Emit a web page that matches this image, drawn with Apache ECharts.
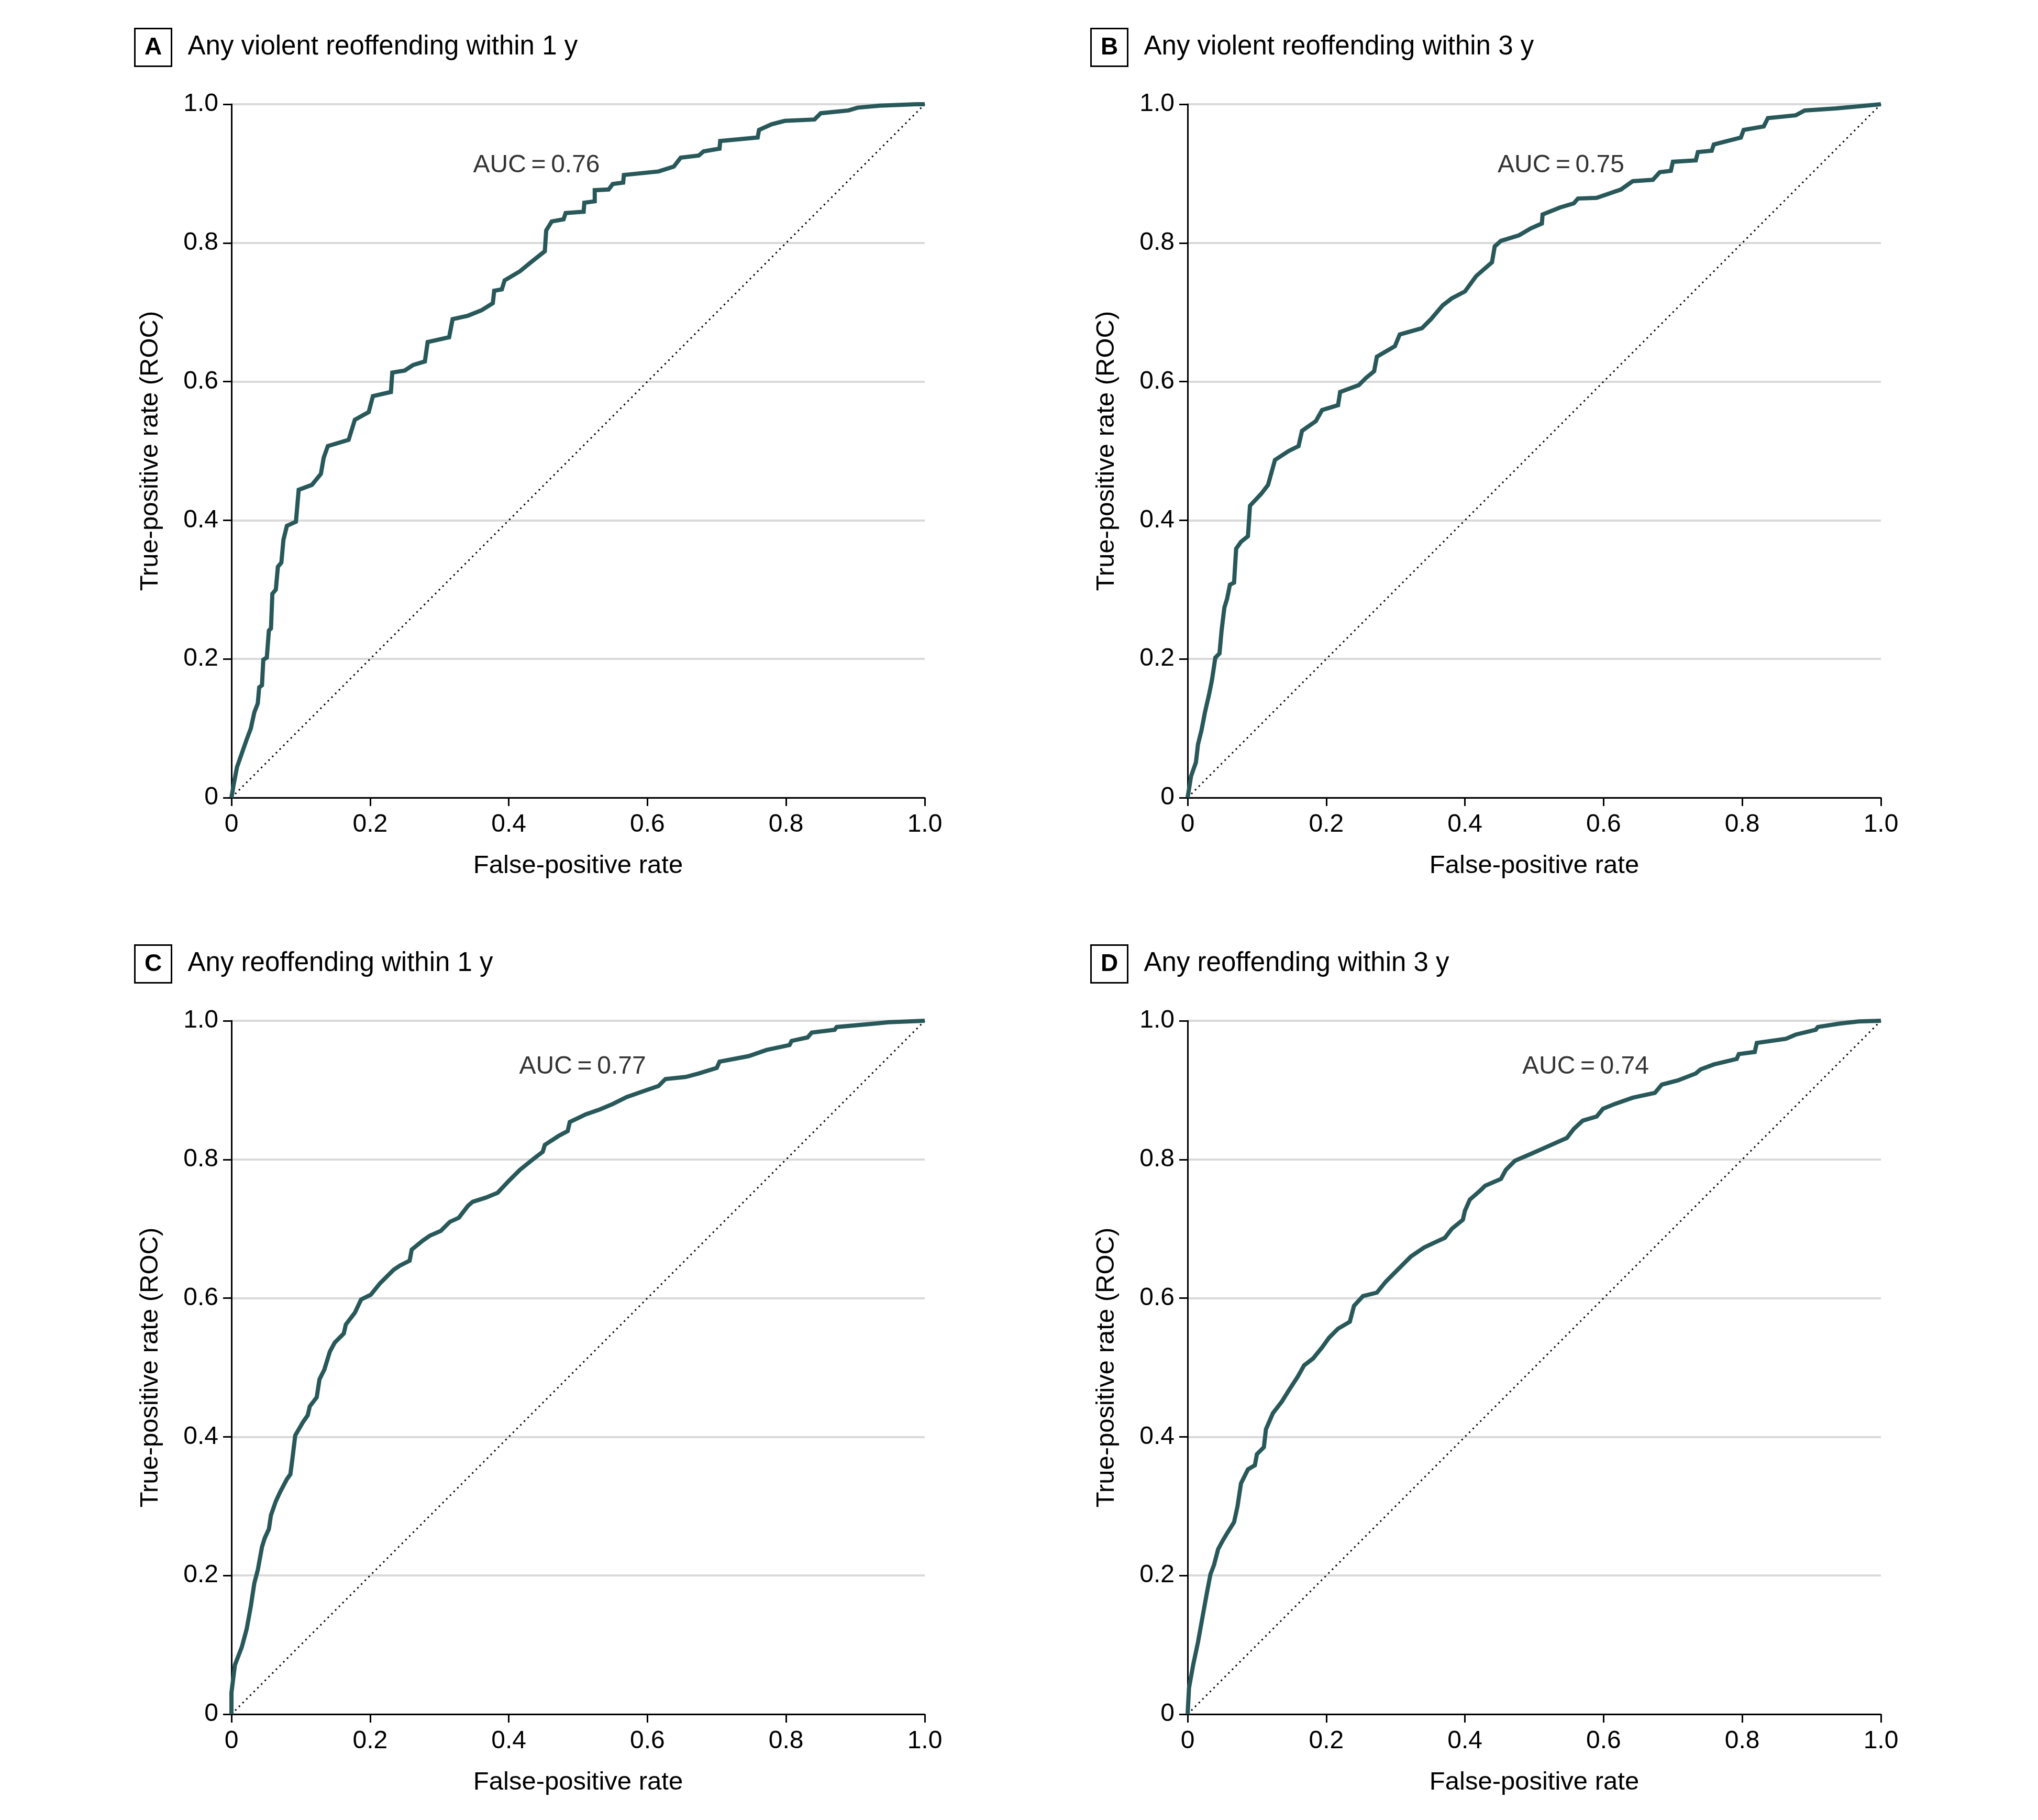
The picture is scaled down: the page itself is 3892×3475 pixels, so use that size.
<!DOCTYPE html>
<html>
<head>
<meta charset="utf-8">
<script src="https://cdn.jsdelivr.net/npm/echarts@6/dist/echarts.min.js"></script>
<style>
  html, body { margin: 0; padding: 0; background: #fff; }
  #chart { width: 3892px; height: 3475px; }
</style>
</head>
<body>
<div id="chart"></div>
<script>
'use strict'

// ROC points: [false-positive rate, true-positive rate]
const rocA = [
  [0, 0], [0.003, 0.018], [0.008, 0.044], [0.015, 0.064], [0.022, 0.084], [0.028, 0.100],
  [0.033, 0.123], [0.038, 0.136], [0.040, 0.159], [0.044, 0.162], [0.046, 0.199], [0.051, 0.202],
  [0.054, 0.241], [0.057, 0.244], [0.059, 0.294], [0.064, 0.300], [0.067, 0.333], [0.072, 0.339],
  [0.075, 0.372], [0.080, 0.392], [0.093, 0.398], [0.097, 0.444], [0.116, 0.451], [0.129, 0.467],
  [0.133, 0.490], [0.139, 0.507], [0.169, 0.516], [0.178, 0.545], [0.198, 0.556], [0.204, 0.579],
  [0.230, 0.585], [0.232, 0.613], [0.250, 0.616], [0.262, 0.624], [0.279, 0.629], [0.283, 0.657],
  [0.314, 0.664], [0.319, 0.690], [0.341, 0.695], [0.361, 0.703], [0.377, 0.713], [0.379, 0.731],
  [0.390, 0.733], [0.394, 0.746], [0.416, 0.759], [0.433, 0.773], [0.452, 0.788], [0.454, 0.818],
  [0.462, 0.831], [0.479, 0.834], [0.482, 0.843], [0.508, 0.845], [0.509, 0.858], [0.524, 0.860],
  [0.524, 0.876], [0.544, 0.877], [0.550, 0.885], [0.565, 0.887], [0.566, 0.898], [0.616, 0.903],
  [0.638, 0.910], [0.648, 0.923], [0.674, 0.926], [0.681, 0.932], [0.704, 0.936], [0.705, 0.947],
  [0.759, 0.952], [0.761, 0.963], [0.779, 0.971], [0.798, 0.976], [0.841, 0.978], [0.850, 0.987],
  [0.890, 0.991], [0.903, 0.995], [0.935, 0.998], [0.988, 1.0], [1, 1]
]

const rocB = [
  [0, 0], [0.005, 0.031], [0.012, 0.051], [0.015, 0.077], [0.020, 0.097], [0.025, 0.123],
  [0.031, 0.149], [0.035, 0.169], [0.040, 0.202], [0.046, 0.208], [0.049, 0.241], [0.053, 0.274],
  [0.057, 0.287], [0.061, 0.307], [0.067, 0.310], [0.070, 0.359], [0.077, 0.369], [0.087, 0.377],
  [0.090, 0.421], [0.106, 0.438], [0.116, 0.451], [0.126, 0.487], [0.146, 0.500], [0.160, 0.507],
  [0.165, 0.529], [0.185, 0.543], [0.194, 0.559], [0.217, 0.566], [0.220, 0.585], [0.247, 0.595],
  [0.257, 0.605], [0.269, 0.615], [0.273, 0.636], [0.299, 0.651], [0.306, 0.668], [0.338, 0.677],
  [0.351, 0.690], [0.368, 0.710], [0.381, 0.720], [0.400, 0.730], [0.416, 0.752], [0.439, 0.772],
  [0.443, 0.795], [0.452, 0.803], [0.478, 0.811], [0.495, 0.821], [0.511, 0.828], [0.512, 0.841],
  [0.537, 0.851], [0.557, 0.857], [0.563, 0.864], [0.590, 0.865], [0.625, 0.877], [0.642, 0.889],
  [0.671, 0.891], [0.681, 0.902], [0.697, 0.904], [0.700, 0.917], [0.733, 0.919], [0.736, 0.931],
  [0.756, 0.933], [0.759, 0.942], [0.798, 0.952], [0.802, 0.963], [0.831, 0.968], [0.837, 0.980],
  [0.877, 0.984], [0.890, 0.991], [0.935, 0.994], [0.968, 0.997], [1, 1]
]

const rocC = [
  [0, 0], [0, 0.031], [0.005, 0.071], [0.015, 0.097], [0.022, 0.123], [0.028, 0.156],
  [0.033, 0.189], [0.038, 0.208], [0.044, 0.241], [0.048, 0.254], [0.054, 0.267], [0.057, 0.287],
  [0.064, 0.307], [0.070, 0.320], [0.080, 0.339], [0.085, 0.346], [0.088, 0.369], [0.092, 0.402],
  [0.103, 0.421], [0.110, 0.431], [0.113, 0.444], [0.123, 0.457], [0.127, 0.483], [0.134, 0.497],
  [0.142, 0.523], [0.149, 0.536], [0.162, 0.549], [0.165, 0.562], [0.178, 0.579], [0.187, 0.598],
  [0.201, 0.605], [0.214, 0.621], [0.234, 0.641], [0.243, 0.647], [0.257, 0.654], [0.260, 0.670],
  [0.276, 0.683], [0.286, 0.690], [0.302, 0.697], [0.315, 0.710], [0.328, 0.716], [0.341, 0.733],
  [0.348, 0.739], [0.367, 0.745], [0.384, 0.752], [0.400, 0.769], [0.416, 0.785], [0.436, 0.801],
  [0.449, 0.811], [0.452, 0.821], [0.472, 0.834], [0.485, 0.841], [0.488, 0.854], [0.511, 0.865],
  [0.531, 0.872], [0.550, 0.880], [0.570, 0.890], [0.593, 0.898], [0.616, 0.906], [0.626, 0.916],
  [0.655, 0.919], [0.674, 0.924], [0.700, 0.932], [0.704, 0.941], [0.746, 0.949], [0.772, 0.958],
  [0.805, 0.965], [0.808, 0.971], [0.831, 0.976], [0.837, 0.983], [0.870, 0.987], [0.873, 0.991],
  [0.929, 0.996], [0.948, 0.998], [1, 1]
]

const rocD = [
  [0, 0], [0.002, 0.038], [0.008, 0.071], [0.015, 0.104], [0.022, 0.143], [0.028, 0.176],
  [0.033, 0.202], [0.038, 0.215], [0.044, 0.238], [0.051, 0.251], [0.057, 0.261], [0.067, 0.277],
  [0.072, 0.300], [0.077, 0.333], [0.087, 0.353], [0.097, 0.359], [0.100, 0.375], [0.110, 0.385],
  [0.113, 0.411], [0.123, 0.434], [0.136, 0.451], [0.146, 0.467], [0.159, 0.487], [0.168, 0.503],
  [0.181, 0.513], [0.194, 0.529], [0.204, 0.543], [0.217, 0.556], [0.234, 0.566], [0.240, 0.589],
  [0.253, 0.603], [0.273, 0.608], [0.286, 0.624], [0.296, 0.634], [0.309, 0.647], [0.322, 0.660],
  [0.341, 0.673], [0.358, 0.681], [0.371, 0.687], [0.381, 0.700], [0.397, 0.713], [0.400, 0.726],
  [0.407, 0.742], [0.423, 0.756], [0.429, 0.762], [0.452, 0.772], [0.459, 0.785], [0.472, 0.798],
  [0.495, 0.808], [0.511, 0.815], [0.531, 0.824], [0.547, 0.831], [0.557, 0.844], [0.570, 0.856],
  [0.590, 0.862], [0.599, 0.873], [0.616, 0.880], [0.642, 0.889], [0.674, 0.896], [0.684, 0.908],
  [0.707, 0.914], [0.733, 0.924], [0.740, 0.930], [0.759, 0.937], [0.792, 0.945], [0.795, 0.952],
  [0.818, 0.955], [0.821, 0.968], [0.863, 0.974], [0.877, 0.980], [0.906, 0.987], [0.909, 0.991],
  [0.941, 0.996], [0.968, 0.999], [1, 1]
]

const chanceLine = [[0, 0], [1, 1]]

const panelLetters = ['A', 'B', 'C', 'D']
const panelTitles = [
  'Any violent reoffending within 1 y',
  'Any violent reoffending within 3 y',
  'Any reoffending within 1 y',
  'Any reoffending within 3 y'
]
const aucValues = ['0.76', '0.75', '0.77', '0.74']
const rocData = [rocA, rocB, rocC, rocD]

// layout
const FONT = "'Liberation Sans', Arial, sans-serif"
const CURVE_COLOR = '#285859'
const PLOT = 1324
const gridPos = [
  { left: 442, top: 199 },
  { left: 2268, top: 199 },
  { left: 442, top: 1949 },
  { left: 2268, top: 1949 }
]
const aucPos = [[0.44, 0.9115], [0.5385, 0.9115], [0.5065, 0.934], [0.574, 0.934]]

const fmtTick = v => (v === 0 ? '0' : v.toFixed(1))

const grid = gridPos.map(p => ({ left: p.left, top: p.top, width: PLOT, height: PLOT, containLabel: false }))

const axisCommon = {
  type: 'value',
  min: 0,
  max: 1,
  interval: 0.2,
  nameLocation: 'middle',
  nameTextStyle: { color: '#000', fontFamily: FONT, fontSize: 49 },
  axisLine: { show: true, onZero: false, lineStyle: { color: '#000', width: 3 } },
  axisTick: { show: true, length: 16, lineStyle: { color: '#000', width: 3 } },
  axisLabel: { color: '#000', fontFamily: FONT, fontSize: 48, formatter: fmtTick }
}

const xAxis = gridPos.map((p, i) => ({
  ...axisCommon,
  gridIndex: i,
  name: 'False-positive rate',
  nameGap: 106,
  axisLabel: { ...axisCommon.axisLabel, margin: 28 },
  splitLine: { show: false }
}))

const yAxis = gridPos.map((p, i) => ({
  ...axisCommon,
  gridIndex: i,
  name: 'True-positive rate (ROC)',
  nameGap: 130,
  nameRotate: 90,
  axisLabel: { ...axisCommon.axisLabel, margin: 25 },
  splitLine: { show: true, lineStyle: { color: '#d9d9d9', width: 4 } }
}))

const series = []
rocData.forEach((roc, i) => {
  series.push({
    type: 'line',
    xAxisIndex: i,
    yAxisIndex: i,
    data: chanceLine,
    showSymbol: false,
    silent: true,
    lineStyle: { color: '#000', width: 3, type: [3, 7] },
    z: 2
  })
  series.push({
    type: 'line',
    xAxisIndex: i,
    yAxisIndex: i,
    data: roc,
    showSymbol: false,
    silent: true,
    lineStyle: { color: CURVE_COLOR, width: 8, join: 'miter' },
    z: 3
  })
  series.push({
    type: 'scatter',
    xAxisIndex: i,
    yAxisIndex: i,
    data: [aucPos[i]],
    symbolSize: 1,
    itemStyle: { color: 'rgba(0,0,0,0)' },
    silent: true,
    label: {
      show: true,
      position: 'inside',
      formatter: 'AUC\u2009=\u2009' + aucValues[i],
      color: '#000',
      fontFamily: FONT,
      fontSize: 48
    },
    z: 4
  })
})

// panel headings: boxed letter + title text
const graphic = gridPos.map((p, i) => ({
  type: 'group',
  left: p.left - 186,
  top: p.top - 146,
  children: [
    {
      type: 'rect',
      shape: { x: 0, y: 0, width: 70, height: 72 },
      style: { fill: '#fff', stroke: '#000', lineWidth: 3 }
    },
    {
      type: 'text',
      x: 35,
      y: 37,
      style: {
        text: panelLetters[i],
        fill: '#000',
        font: 'bold 46px ' + FONT,
        textAlign: 'center',
        textVerticalAlign: 'middle'
      }
    },
    {
      type: 'text',
      x: 101,
      y: 35,
      style: {
        text: panelTitles[i],
        fill: '#000',
        font: '51px ' + FONT,
        textAlign: 'left',
        textVerticalAlign: 'middle'
      }
    }
  ]
}))

const chart = echarts.init(document.getElementById('chart'), null, { renderer: 'canvas' })
chart.setOption({
  animation: false,
  backgroundColor: '#fff',
  grid,
  xAxis,
  yAxis,
  series,
  graphic
})
</script>
</body>
</html>
